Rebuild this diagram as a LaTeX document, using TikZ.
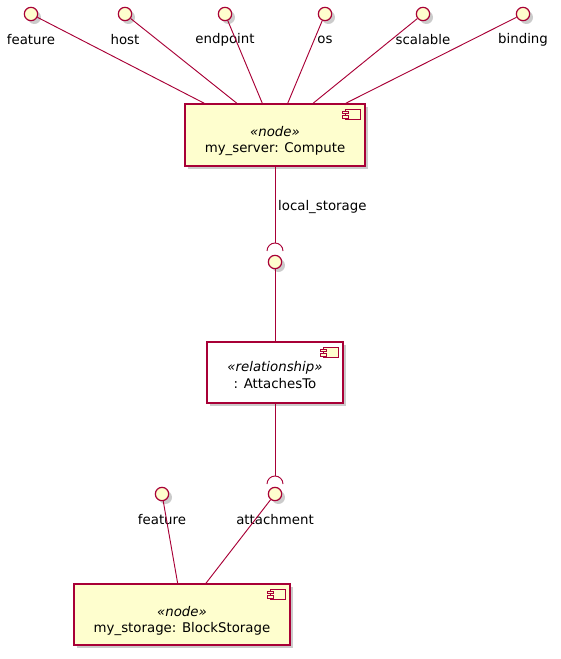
\documentclass[tikz,border=0pt]{standalone}
\usepackage{fontspec}
\setmainfont{DejaVu Sans}
\usetikzlibrary{calc, shadows}

\definecolor{umlred}{HTML}{A80036}
\definecolor{umlfill}{HTML}{FEFECE}

\tikzset{
  umlshadow/.style={drop shadow={shadow xshift=2.5pt, shadow yshift=-2.5pt,
                    fill=black!45, opacity=0.45}},
  iface/.style={circle, draw=umlred, fill=umlfill, line width=0.9pt,
                minimum size=10pt, inner sep=0pt, umlshadow},
  comp/.style={rectangle, draw=umlred, fill=umlfill, line width=1.1pt,
               inner sep=0pt, umlshadow},
  wire/.style={draw=umlred, line width=0.7pt},
  lbl/.style={font=\fontsize{10}{12}\selectfont, inner sep=1pt},
  boxtext/.style={font=\fontsize{10}{12.5}\selectfont, align=center, inner sep=0pt}
}

% small component glyph in the top right corner of a box
\newcommand\compglyph[1]{%
  \draw[umlred, fill=umlfill, line width=0.7pt]
    ($(#1.north east)+(-20,6)$) rectangle ($(#1.north east)+(-5,16)$);
  \draw[umlred, fill=umlfill, line width=0.7pt]
    ($(#1.north east)+(-23,8)$) rectangle ($(#1.north east)+(-17,10.5)$);
  \draw[umlred, fill=umlfill, line width=0.7pt]
    ($(#1.north east)+(-23,12.5)$) rectangle ($(#1.north east)+(-17,15)$);
}

\begin{document}
\begin{tikzpicture}[x=0.75pt, y=-0.75pt]
  \useasboundingbox (0,0) rectangle (560,659);

  % Compute node
  \node[comp, minimum width=135pt, minimum height=46.5pt] (server) at (275,135) {};
  \node[boxtext] (servertxt) at (275,141) {\textit{«node»}\\my\_server: Compute};
  \compglyph{server}

  % capabilities of the compute node
  \foreach \name/\x/\t/\frac in {feature/31/feature/0.11, host/125/host/0.29,
      endpoint/225/endpoint/0.43, os/325/os/0.57, scalable/423/scalable/0.71,
      binding/523/binding/0.89} {
    \node[iface] (cap-\name) at (\x,14) {};
    \node[lbl] (cap-\name-txt) at (\x,40) {\t};
    \draw[wire] (cap-\name) -- ($(server.north west)!\frac!(server.north east)$);
  }

  % requirement local_storage
  \node[iface] (req-local) at (275,262) {};
  \coordinate (sock-local) at (275,243);
  \draw[wire] (server.south) -- (sock-local)
    node[lbl, pos=0.53, anchor=west, xshift=1pt] (local-txt) {local\_storage};
  \draw[wire] (sock-local) ++(-6pt,-6pt) arc[start angle=180, end angle=0, radius=6pt];

  % AttachesTo relationship
  \node[comp, fill=white, minimum width=102pt, minimum height=45.75pt] (rel) at (275,372.5) {};
  \node[boxtext] (reltxt) at (275,375) {\textit{«relationship»}\\: AttachesTo};
  \compglyph{rel}
  \draw[wire] (req-local) -- (rel.north);

  % attachment socket
  \node[iface] (cap-attach) at (275,494) {};
  \node[lbl] (cap-attach-txt) at (275,520) {attachment};
  \coordinate (sock-attach) at (275,476);
  \draw[wire] (rel.south) -- (sock-attach);
  \draw[wire] (sock-attach) ++(-6pt,-6pt) arc[start angle=180, end angle=0, radius=6pt];

  % BlockStorage node
  \node[comp, minimum width=162pt, minimum height=45.75pt] (storage) at (182,614.5) {};
  \node[boxtext] (storagetxt) at (182,621) {\textit{«node»}\\my\_storage: BlockStorage};
  \compglyph{storage}

  \node[iface] (st-feature) at (162,494) {};
  \node[lbl] (st-feature-txt) at (162,520) {feature};
  \draw[wire] (st-feature) -- ($(storage.north west)!0.48!(storage.north east)$);
  \draw[wire] (cap-attach) -- ($(storage.north west)!0.61!(storage.north east)$);
\end{tikzpicture}
\end{document}
